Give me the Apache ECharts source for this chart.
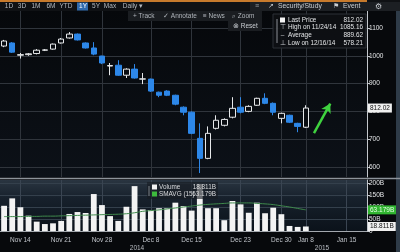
<!DOCTYPE html>
<html><head><meta charset="utf-8">
<script src="https://cdn.jsdelivr.net/npm/echarts@6/dist/echarts.min.js"></script>
<style>html,body{margin:0;padding:0;background:#07090c;overflow:hidden}#c{width:400px;height:252px}</style>
</head><body><div id="c"></div>
<script>
// ---- data ----
const dates = ['Nov 12','Nov 13','Nov 14','Nov 17','Nov 18','Nov 19','Nov 20','Nov 21','Nov 24','Nov 25','Nov 26','Nov 27','Nov 28',
  'Dec 1','Dec 2','Dec 3','Dec 4','Dec 5','Dec 8','Dec 9','Dec 10','Dec 11','Dec 12','Dec 15','Dec 16','Dec 17','Dec 18','Dec 19',
  'Dec 22','Dec 23','Dec 24','Dec 25','Dec 26','Dec 29','Dec 30','Jan 5','Jan 6','Jan 8',
  'Jan 9','Jan 12','Jan 13','Jan 14','Jan 15','Jan 16','Jan 19'];
const tickLabels = ['Nov 14','Nov 21','Nov 28','Dec 8','Dec 15','Dec 23','Dec 30','Jan 8','Jan 15'];
const yearLabels = ['2014','2015'];
const opens  = [1035,1046,1002,1004,1008,1020,1024,1046,1064,1078,1046,1028,999,963,966,930,952,916,916,869,873,858,815,797,703,631,739,750,779,815,800,822,847,829,775,786,757,743];
const closes = [1053,1013,1004,1007,1020,1021,1042,1060,1078,1057,1028,1006,974,965,930,952,920,917,873,858,858,826,797,721,631,721,768,771,811,797,818,847,829,797,793,761,746,812.02];
const lows   = [1031,1010,990,1000,1005,1017,1022,1044,1062,1055,1026,1002,970,930,928,920,918,898,870,851,855,822,786,718,578.21,628,735,746,775,793,797,820,826,786,757,758,725,740];
const highs  = [1057,1049,1010,1010,1024,1024,1044,1064,1085.16,1080,1048,1049,1000,974,984,955,970,938,918,871,876,860,818,800,757,746,786,775,851,851,822,849,865,832,795,788,759,822];
const volumes = [105,136,99,64,39,29,32,42,71,79,75,154,108,62,42,101,187,90,87,95,95,118,104,85,196,95,95,45,125,111,76,118,74,97,70,21,17,18.811];
const smavg15 = [60,60,60,61,61,62,62,63,64,65,66,67,68,69,70,72,76,82,85,88,92,96,100,104,108,111,113,115,117,117,117,115,113,110,105,100,94,88];
const priceTicks = [600,700,800,900,1000,1100];
const volTicks = [0,50,100,150,200];
const statNames = ['Last Price','High on 11/24/14','Average','Low on 12/16/14'];
const statValues = ['812.02','1085.16','889.62','578.21'];
const volNames = ['Volume','SMAVG (15)'];
const volValues = ['18.811B','63.179B'];
const periods = ['1D','3D','1M','6M','YTD','1Y','5Y','Max','Daily \u25BE'];
const tools = ['+ Track','\u2713 Annotate','\u2261 News','\u2315 Zoom'];
const arrowDates = ['Jan 9','Jan 13'];
const arrowPrices = [722,828];

// ---- chart ----
const FONT = '"Liberation Sans", Arial, sans-serif';
const chart = echarts.init(document.getElementById('c'), null, {renderer:'canvas', width:400, height:252});
const candles = opens.map((o,i)=>[o, closes[i], lows[i], highs[i]]);
const isTick = (i, v) => tickLabels.indexOf(v) >= 0;
const lastPrice = closes[closes.length-1];
const G = echarts.graphic;

function txt(x, y, s, o) {
  o = o || {};
  return {type:'text', x:x, y:y, z:100, silent:true,
    style:{text:s, fill:o.fill||'#c9cdd2', font:(o.size||7)+'px '+FONT, align:o.align||'left', verticalAlign:'middle'}};
}
function rect(x, y, w, h, fill, o) {
  o = o || {};
  return {type:'rect', z:o.z||99, silent:true, shape:{x:x,y:y,width:w,height:h},
    style:{fill:fill, stroke:o.stroke||null, lineWidth:o.stroke?1:0}};
}

const graphics = [];
// top toolbar
graphics.push(rect(0,0,400,11,'#0f1114',{z:90}));
graphics.push(rect(250,2,150,9,'#1c1f23',{z:91}));
graphics.push(rect(0,0,367,2,'#c77a2c',{z:92}));
const px = [9,22,36,51,66,83,96,110,133];
periods.forEach((p,i)=>{
  if (p === '1Y') graphics.push(rect(77,2.5,11,8,'#2f6aad',{z:95}));
  graphics.push(txt(px[i],6.5,p,{align:'center', size:6.5, fill: p==='1Y' ? '#ffffff' : '#b4b9bf'}));
});
graphics.push(txt(257,6.5,'\u2261',{align:'center', fill:'#9aa0a6'}));
graphics.push(txt(271,6.5,'\u2197',{align:'center', fill:'#c9cdd2'}));
graphics.push(txt(278,6.5,'Security/Study',{fill:'#c9cdd2', size:6.8}));
graphics.push(txt(336,6.5,'\u2691',{align:'center', fill:'#c9cdd2'}));
graphics.push(txt(343,6.5,'Event',{fill:'#c9cdd2', size:6.8}));
graphics.push(txt(378,6.5,'\u2699',{align:'center', fill:'#c9cdd2', size:8}));
// second toolbar row
graphics.push(rect(128,11,134,10,'#1a1d21'));
const tx = [133,163,203,232];
tools.forEach((t,i)=>graphics.push(txt(tx[i],16,t,{fill:'#aeb3b9', size:6.5})));
graphics.push(rect(228,21,34,10,'#1a1d21'));
graphics.push(txt(233,26,'\u2297 Reset',{fill:'#c9cdd2', size:6.5}));
// price stats box
graphics.push(rect(273,14,93,34,'rgba(14,16,20,0.92)',{stroke:'#2c3036'}));
graphics.push({type:'line', z:100, silent:true, shape:{x1:277,y1:19,x2:277,y2:43}, style:{stroke:'#8c9096', lineWidth:1}});
graphics.push(rect(280,17.5,5,5,'#f4f4f4',{z:101}));
const glyphs = ['', '\u22A4', '\u2013', '\u22A5'];
statNames.forEach((n,i)=>{
  const y = 20 + i*7.6;
  if (glyphs[i]) graphics.push(txt(282.5,y,glyphs[i],{align:'center', fill:'#c0c4c8', size:6.5}));
  graphics.push(txt(288,y,n,{fill:'#e2e4e6', size:6.4}));
  graphics.push(txt(363,y,statValues[i],{align:'right', fill:'#e2e4e6', size:6.4}));
});
// volume legend box
graphics.push(rect(147,182,71,17,'rgba(22,28,34,0.62)'));
graphics.push(rect(152,184.5,5,5,'#f2f2f2',{z:101}));
graphics.push(rect(152,191.5,5,5,'#3dba3d',{z:101}));
graphics.push({type:'line', z:100, silent:true, shape:{x1:149,y1:186,x2:149,y2:196}, style:{stroke:'#7d8288', lineWidth:1}});
volNames.forEach((n,i)=>{
  const y = 187.5 + i*7;
  graphics.push(txt(159,y,n,{fill:'#d8dadc', size:6.4}));
  graphics.push(txt(216,y,volValues[i],{align:'right', fill:'#d8dadc', size:6.4}));
});
// panel separator
graphics.push({type:'line', z:100, silent:true, shape:{x1:0,y1:178.5,x2:400,y2:178.5}, style:{stroke:'#8d939a', lineWidth:1.5}});
graphics.push(rect(396,11,4,241,'#2e3b48',{z:90}));
// year labels
graphics.push(txt(137,248,yearLabels[0],{align:'center', fill:'#b8bcc2', size:6.5}));
graphics.push(txt(322,248,yearLabels[1],{align:'center', fill:'#b8bcc2', size:6.5}));

const priceBg = new G.LinearGradient(0,0,0,1,[{offset:0,color:'#06080b'},{offset:1,color:'#0c1118'}]);
const volBg = new G.LinearGradient(0,0,0,1,[{offset:0,color:'#2a3541'},{offset:0.35,color:'#17212c'},{offset:1,color:'#0b121a'}]);

const option = {
  animation:false,
  backgroundColor:'#07090c',
  textStyle:{fontFamily:FONT},
  grid:[
    {left:-1, right:33, top:11, height:166, show:true, borderWidth:0, backgroundColor:priceBg},
    {left:-1, right:33, top:180, height:51, show:true, borderWidth:0, backgroundColor:volBg}
  ],
  xAxis:[
    {gridIndex:0, type:'category', data:dates, boundaryGap:true,
     axisLine:{show:false}, axisTick:{show:false}, axisLabel:{show:false},
     splitLine:{show:true, alignWithLabel:true, interval:isTick, lineStyle:{color:'#2f343b', width:1}}},
    {gridIndex:1, type:'category', data:dates, boundaryGap:true,
     axisLine:{show:true, lineStyle:{color:'#a3a8ae', width:1}}, axisTick:{show:false},
     axisLabel:{show:true, interval:isTick, color:'#c0c4ca', fontSize:6.5, margin:6, fontFamily:FONT},
     splitLine:{show:true, alignWithLabel:true, interval:isTick, lineStyle:{color:'#3a4552', width:1}}}
  ],
  yAxis:[
    {gridIndex:0, type:'value', position:'right', min:564, max:1161,
     axisLine:{show:true, lineStyle:{color:'#c3c7cc', width:1}},
     axisTick:{show:true, length:3, customValues:priceTicks, lineStyle:{color:'#c3c7cc'}},
     axisLabel:{show:true, customValues:priceTicks, color:'#e4e6e8', fontSize:6.5, margin:2, fontFamily:FONT,
       formatter:v => String(v)},
     splitLine:{show:true, lineStyle:{color:'#30353c', width:1}}},
    {gridIndex:1, type:'value', position:'right', min:0, max:212.5,
     axisLine:{show:true, lineStyle:{color:'#c3c7cc', width:1}},
     axisTick:{show:true, length:3, customValues:volTicks, lineStyle:{color:'#c3c7cc'}},
     axisLabel:{show:true, customValues:volTicks, color:'#e4e6e8', fontSize:6.5, margin:2, fontFamily:FONT,
       formatter:v => v === 0 ? '0' : v + 'B'},
     splitLine:{show:true, lineStyle:{color:'#34404c', width:1}}}
  ],
  series:[
    {type:'candlestick', xAxisIndex:0, yAxisIndex:0, data:candles, barWidth:6,
     itemStyle:{color:'#0a0d12', color0:'#2d87e8', borderColor:'#e6e8ea', borderColor0:'#2d87e8', borderWidth:1},
     markLine:{silent:true, symbol:['none','none'], animation:false,
       data:[
         {yAxis:lastPrice, lineStyle:{color:'rgba(0,0,0,0)', width:0},
          label:{show:true, position:'end', distance:1, formatter:lastPrice.toFixed(2), backgroundColor:'#f0f0f0', color:'#111', fontSize:6.5, padding:[1,2,1,2], fontFamily:FONT}},
         [{coord:[arrowDates[0], arrowPrices[0]], symbol:'none', lineStyle:{color:'#3fd23f', width:2.5, type:'solid'}, label:{show:false}},
          {coord:[arrowDates[1], arrowPrices[1]], symbol:'arrow', symbolSize:[8,9]}]
       ]}},
    {type:'bar', xAxisIndex:1, yAxisIndex:1, data:volumes, barWidth:5.8,
     itemStyle:{color:'#f3f3f3'},
     markLine:{silent:true, symbol:['none','none'], animation:false,
       data:[
         {yAxis:volumes[volumes.length-1], lineStyle:{color:'rgba(0,0,0,0)', width:0},
          label:{show:true, position:'end', distance:1, formatter:volValues[0], backgroundColor:'#f0f0f0', color:'#111', fontSize:6.5, padding:[1,2,1,2], fontFamily:FONT}}
       ]}},
    {type:'line', xAxisIndex:1, yAxisIndex:1, data:smavg15, symbol:'none', smooth:true,
     lineStyle:{color:'#3f8a4c', width:1},
     markLine:{silent:true, symbol:['none','none'], animation:false,
       data:[
         {yAxis:smavg15[smavg15.length-1], lineStyle:{color:'rgba(0,0,0,0)', width:0},
          label:{show:true, position:'end', distance:1, formatter:volValues[1], backgroundColor:'#31b531', color:'#e8ffe8', fontSize:6.5, padding:[1,2,1,2], fontFamily:FONT}}
       ]}}
  ],
  graphic:graphics
};
chart.setOption(option);
</script></body></html>
